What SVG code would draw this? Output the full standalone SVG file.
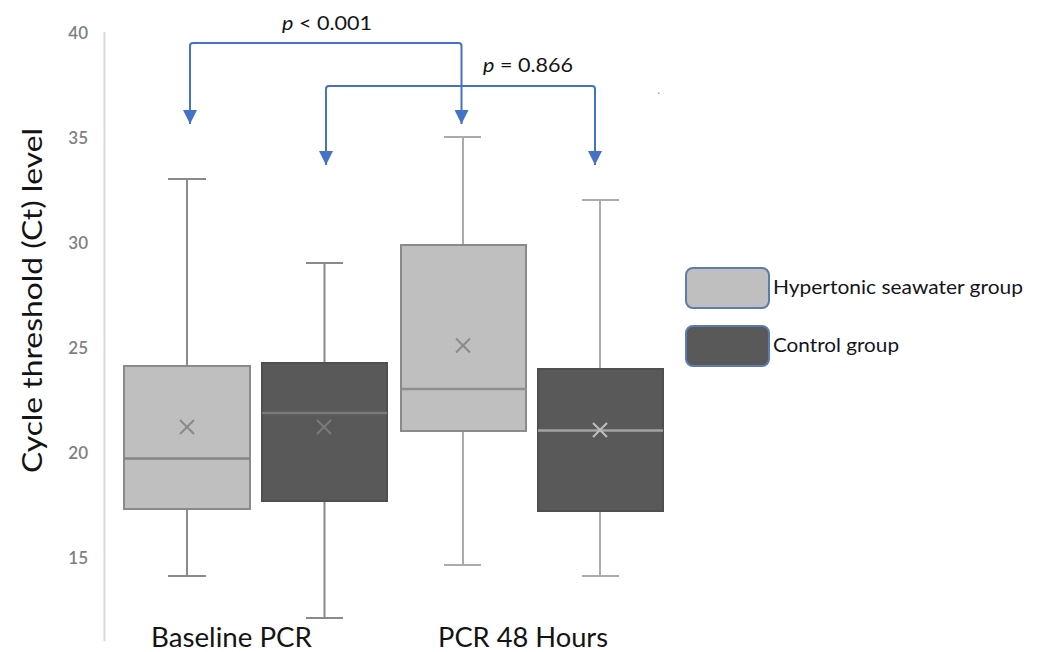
<svg xmlns="http://www.w3.org/2000/svg" width="1040" height="652" viewBox="0 0 1040 652">
  <style>
    text { font-family: Lato, "Liberation Sans", sans-serif; }
    .tick { font-size: 17px; fill: #7f7f7f; text-anchor: end; font-weight: 600; }
    .lightbox { fill: #bfbfbf; stroke: #8a8a8a; stroke-width: 2; }
    .darkbox { fill: #595959; stroke: #4f4f4f; stroke-width: 2; }
    .wA { stroke: #8a8a8a; stroke-width: 2; fill: none; }
    .wB { stroke: #ababab; stroke-width: 2; fill: none; }
    .br { stroke: #4472c4; stroke-width: 2; fill: none; stroke-linejoin: round; }
    .leg { font-size: 19px; fill: #141420; }
    .pl { font-size: 20px; fill: #141414; }
    .xl { font-size: 26px; fill: #141414; }
  </style>
  <defs>
    <marker id="ah" viewBox="0 0 14 14" refX="14" refY="7" markerWidth="14" markerHeight="14" markerUnits="userSpaceOnUse" orient="auto-start-reverse">
      <path d="M0,0 L14,7 L0,14 Z" fill="#4472c4"/>
    </marker>
  </defs>
  <rect width="1040" height="652" fill="#ffffff"/>

  <g id="axis">
    <line x1="104.5" y1="32" x2="104.5" y2="641" stroke="#d9d9d9" stroke-width="2"/>
    <text class="tick" x="88" y="39">40</text>
    <text class="tick" x="88" y="144">35</text>
    <text class="tick" x="88" y="249">30</text>
    <text class="tick" x="88" y="354">25</text>
    <text class="tick" x="88" y="459">20</text>
    <text class="tick" x="88" y="564">15</text>
    <text transform="translate(42,300.5) rotate(-90)" text-anchor="middle" font-size="27" fill="#141414" textLength="345" lengthAdjust="spacingAndGlyphs">Cycle threshold (Ct) level</text>
  </g>

  <g id="box-baseline-hypertonic">
    <path class="wA" d="M187,179 V366 M187,509 V576 M168,179 H206 M168,576 H206"/>
    <rect class="lightbox" x="124" y="366" width="126" height="143"/>
    <line x1="124" y1="458.5" x2="250" y2="458.5" stroke="#858585" stroke-width="2.5"/>
    <path d="M180,420 L194,434 M194,420 L180,434" stroke="#8a8a8a" stroke-width="2"/>
  </g>

  <g id="box-baseline-control">
    <path class="wA" d="M324.5,263 V363 M324.5,501 V618 M306,263 H343 M306,618 H343"/>
    <rect class="darkbox" x="262" y="363" width="125" height="138"/>
    <line x1="262" y1="413" x2="387" y2="413" stroke="#7a7a7a" stroke-width="2.5"/>
    <path d="M317,420 L331,434 M331,420 L317,434" stroke="#7a7a7a" stroke-width="2"/>
  </g>

  <g id="box-48h-hypertonic">
    <path class="wB" d="M463,137 V245 M463,431 V565 M444,137 H481 M444,565 H481"/>
    <rect class="lightbox" x="401" y="245" width="125" height="186"/>
    <line x1="401" y1="389" x2="526" y2="389" stroke="#8f8f8f" stroke-width="2.5"/>
    <path d="M456,338.5 L470,352.5 M470,338.5 L456,352.5" stroke="#8a8a8a" stroke-width="2"/>
  </g>

  <g id="box-48h-control">
    <path class="wB" d="M600,200 V369 M600,511 V576 M582,200 H619 M582,576 H619"/>
    <rect class="darkbox" x="538" y="369" width="125" height="142"/>
    <line x1="538" y1="430.5" x2="663" y2="430.5" stroke="#a3a3a3" stroke-width="2.5"/>
    <path d="M593,423 L607,437 M607,423 L593,437" stroke="#bdbdbd" stroke-width="2"/>
  </g>

  <g id="connectors">
    <path class="br" d="M190,124 V46 Q190,43 193,43 H458.5 Q461.5,43 461.5,46 V124" marker-start="url(#ah)" marker-end="url(#ah)"/>
    <path class="br" d="M326,165 V89 Q326,86 329,86 H592 Q595,86 595,89 V165" marker-start="url(#ah)" marker-end="url(#ah)"/>
  </g>

  <g id="label-p1">
    <text class="pl" x="282" y="30" textLength="90" lengthAdjust="spacingAndGlyphs"><tspan font-style="italic">p</tspan> &lt; 0.001</text>
  </g>
  <g id="label-p2">
    <text class="pl" x="483" y="72" textLength="90" lengthAdjust="spacingAndGlyphs"><tspan font-style="italic">p</tspan> = 0.866</text>
  </g>

  <rect x="658" y="92.5" width="1.5" height="1.5" fill="#b090d0"/>

  <g id="legend-hypertonic">
    <rect x="686" y="268" width="83" height="40" rx="7" fill="#bfbfbf" stroke="#5b7bb2" stroke-width="2"/>
    <text class="leg" x="773" y="294" textLength="250" lengthAdjust="spacingAndGlyphs">Hypertonic seawater group</text>
  </g>
  <g id="legend-control">
    <rect x="686" y="326" width="83" height="40" rx="7" fill="#595959" stroke="#5b7bb2" stroke-width="2"/>
    <text class="leg" x="773" y="352" textLength="126" lengthAdjust="spacingAndGlyphs">Control group</text>
  </g>

  <g id="xlabels">
    <text class="xl" x="151" y="647" textLength="161" lengthAdjust="spacingAndGlyphs">Baseline PCR</text>
    <text class="xl" x="438" y="647" textLength="170" lengthAdjust="spacingAndGlyphs">PCR 48 Hours</text>
  </g>
</svg>
